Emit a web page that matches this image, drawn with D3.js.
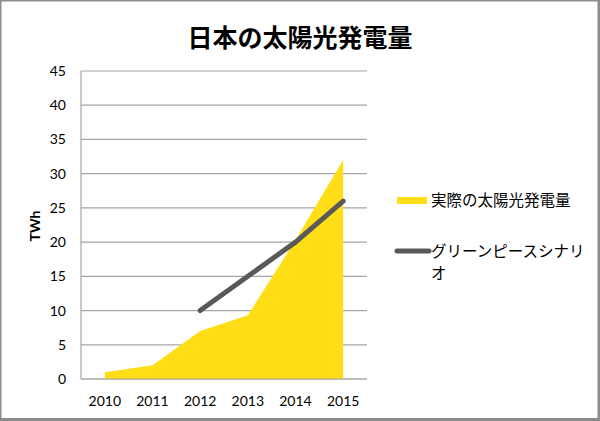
<!DOCTYPE html>
<html><head><meta charset="utf-8">
<script src="https://cdn.jsdelivr.net/npm/d3@7"></script>
<style>
html,body{margin:0;padding:0;background:#fff;}
svg{display:block;}
</style></head>
<body>
<svg id="c" width="600" height="421"></svg>
<script>
const years = ["2010","2011","2012","2013","2014","2015"];
const actual = [1, 2, 7, 9.3, 20.3, 32];
const scenarioYears = ["2012","2013","2014","2015"];
const scenario = [10, 15, 20, 26];
const yTicks = [0,5,10,15,20,25,30,35,40,45];
const title = "日本の太陽光発電量";
const seriesNames = ["実際の太陽光発電量", "グリーンピースシナリオ"];
const yLabel = "TWh";

const svg = d3.select("#c");
const font = "Lato,'Open Sans',sans-serif";
const cjk = "'Noto Sans CJK JP',sans-serif";

// frame
svg.append("rect").attr("x",0).attr("y",0).attr("width",600).attr("height",421).attr("fill","#8c8c8c");
svg.append("rect").attr("x",1.5).attr("y",1.5).attr("width",596).attr("height",416.5).attr("fill","#fff");

const L=81, R=367, T=71, B=379;
const x = d3.scaleBand().domain(years).range([L,R]);
const cx = d => x(d) + x.bandwidth()/2;
const y = d3.scaleLinear().domain([0,45]).range([B,T]);

// grid
svg.append("g").selectAll("line").data(yTicks).join("line")
  .attr("x1",L).attr("x2",R).attr("y1",d=>y(d)).attr("y2",d=>y(d))
  .attr("stroke","#a6a6a6").attr("stroke-width",1.2);

// area
const area = d3.area().x((d,i)=>cx(years[i])).y0(y(0)).y1(d=>y(d));
svg.append("path").datum(actual).attr("d",area).attr("fill","#ffde17");

// axes lines
svg.append("line").attr("x1",L).attr("x2",L).attr("y1",T).attr("y2",B)
  .attr("stroke","#a6a6a6").attr("stroke-width",1.2);
svg.append("line").attr("x1",L).attr("x2",R).attr("y1",B).attr("y2",B)
  .attr("stroke","#a6a6a6").attr("stroke-width",1.2);

// scenario line
const line = d3.line().x((d,i)=>cx(scenarioYears[i])).y(d=>y(d));
svg.append("path").datum(scenario).attr("d",line).attr("fill","none")
  .attr("stroke","#595959").attr("stroke-width",5).attr("stroke-linecap","round").attr("stroke-linejoin","round");

// y tick labels
svg.append("g").selectAll("text").data(yTicks).join("text")
  .attr("x",66).attr("y",d=>y(d)).attr("dy","0.36em").attr("text-anchor","end")
  .attr("font-family",font).attr("font-size",14).attr("fill","#000").text(d=>d);

// x tick labels
svg.append("g").selectAll("text").data(years).join("text")
  .attr("x",d=>cx(d)).attr("y",401).attr("dy","0.36em").attr("text-anchor","middle")
  .attr("font-family",font).attr("font-size",14).attr("fill","#000").text(d=>d);

// y label
svg.append("text").attr("transform","translate(40,226) rotate(-90)")
  .attr("text-anchor","middle").attr("font-family",font).attr("font-weight","bold")
  .attr("font-size",14).text(yLabel);

// title
svg.append("text").attr("x",300).attr("y",38).attr("dy","0.36em").attr("text-anchor","middle")
  .attr("font-family",cjk).attr("font-weight","bold").attr("font-size",25).text(title);

// legend
svg.append("rect").attr("x",397).attr("y",197).attr("width",30).attr("height",7).attr("fill","#ffde17");
svg.append("text").attr("x",431).attr("y",200).attr("dy","0.36em")
  .attr("font-family",cjk).attr("font-size",15.5).text(seriesNames[0]);
svg.append("line").attr("x1",397).attr("x2",429).attr("y1",251).attr("y2",251)
  .attr("stroke","#595959").attr("stroke-width",5).attr("stroke-linecap","round");
const t2 = svg.append("text").attr("font-family",cjk).attr("font-size",15.5);
t2.append("tspan").attr("x",431).attr("y",251).attr("dy","0.36em").text(seriesNames[1].slice(0,10));
t2.append("tspan").attr("x",431).attr("y",273).attr("dy","0.36em").text(seriesNames[1].slice(10));
</script>
</body></html>
